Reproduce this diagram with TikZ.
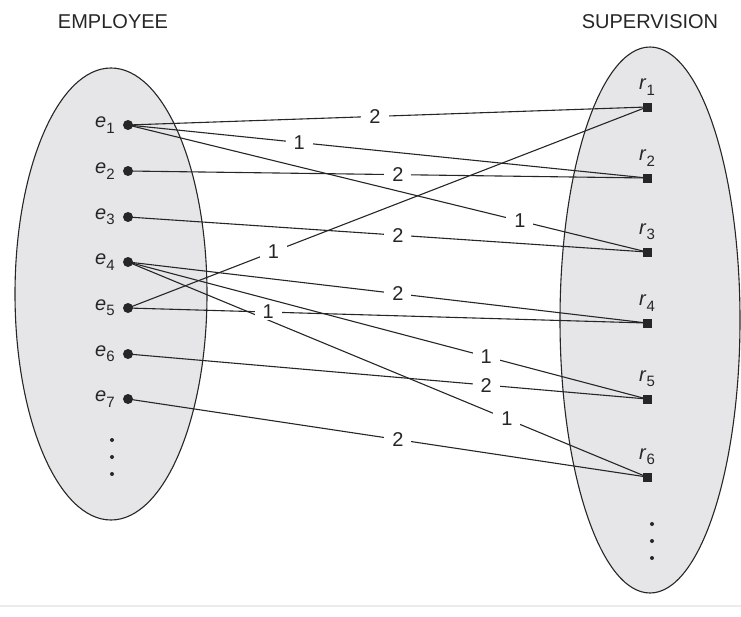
\documentclass[tikz,border=0pt]{standalone}
\usepackage{fontspec}
\setmainfont{Liberation Sans}
\usetikzlibrary{positioning}
\definecolor{erInk}{HTML}{262626}
\definecolor{erShade}{HTML}{E6E6E8}
\definecolor{erRule}{HTML}{EBEBEB}
\newcommand{\ent}[2]{\textit{#1}\raisebox{-.5ex}{\fontsize{15}{15}\selectfont #2}}

\begin{document}
\begin{tikzpicture}[x=1pt,y=-1pt,font=\fontsize{20}{24}\selectfont,
    set/.style={draw=erInk,line width=1.1pt,fill=erShade},
    edot/.style={circle,fill=erInk,inner sep=0pt,minimum size=10pt},
    rbox/.style={rectangle,fill=erInk,inner sep=0pt,minimum size=9pt},
    vdot/.style={circle,fill=erInk,inner sep=0pt,minimum size=4pt},
    lab/.style={inner sep=0pt,text=erInk},
    wt/.style={fill=white,text=erInk,inner xsep=8pt,inner ysep=1pt},
    link/.style={draw=erInk,line width=1.1pt}]
  \useasboundingbox (0,0) rectangle (741,616);
  % the two sets
  \draw[set] (111,294) ellipse [x radius=96,y radius=226];
  \draw[set] (650,320) ellipse [x radius=90,y radius=273];
  \node[lab] (temp) at (113,22) {EMPLOYEE};
  \node[lab] (tsup) at (650,22) {SUPERVISION};
  \draw[erRule,line width=2pt] (0,606) -- (741,606);
  % employee instances
  \node[edot] (e1) at (128,125) {};
  \node[edot] (e2) at (128,171) {};
  \node[edot] (e3) at (128,217) {};
  \node[edot] (e4) at (128,262) {};
  \node[edot] (e5) at (128,308) {};
  \node[edot] (e6) at (128,354) {};
  \node[edot] (e7) at (128,399) {};
  \node[lab,left=8pt of e1] (le1) {\ent{e}{1}};
  \node[lab,left=8pt of e2] (le2) {\ent{e}{2}};
  \node[lab,left=8pt of e3] (le3) {\ent{e}{3}};
  \node[lab,left=8pt of e4] (le4) {\ent{e}{4}};
  \node[lab,left=8pt of e5] (le5) {\ent{e}{5}};
  \node[lab,left=8pt of e6] (le6) {\ent{e}{6}};
  \node[lab,left=8pt of e7] (le7) {\ent{e}{7}};
  \node[vdot] (ev1) at (112,440) {};
  \node[vdot] (ev2) at (112,457) {};
  \node[vdot] (ev3) at (112,474) {};
  % relationship instances
  \node[rbox] (r1) at (647,107) {};
  \node[rbox] (r2) at (647,178) {};
  \node[rbox] (r3) at (647,252) {};
  \node[rbox] (r4) at (647,323) {};
  \node[rbox] (r5) at (647,399) {};
  \node[rbox] (r6) at (647,477) {};
  \node[lab,above=7pt of r1] (lr1) {\ent{r}{1}};
  \node[lab,above=7pt of r2] (lr2) {\ent{r}{2}};
  \node[lab,above=7pt of r3] (lr3) {\ent{r}{3}};
  \node[lab,above=7pt of r4] (lr4) {\ent{r}{4}};
  \node[lab,above=7pt of r5] (lr5) {\ent{r}{5}};
  \node[lab,above=7pt of r6] (lr6) {\ent{r}{6}};
  \node[vdot] (rv1) at (652,524) {};
  \node[vdot] (rv2) at (652,541) {};
  \node[vdot] (rv3) at (652,558) {};
  % role links
  \draw[link] (e1.center) -- node[wt,pos=.476] (w11) {2} (r1.center);
  \draw[link] (e1.center) -- node[wt,pos=.33] (w12) {1} (r2.center);
  \draw[link] (e1.center) -- node[wt,pos=.755] (w13) {1} (r3.center);
  \draw[link] (e2.center) -- node[wt,pos=.52] (w22) {2} (r2.center);
  \draw[link] (e3.center) -- node[wt,pos=.52] (w33) {2} (r3.center);
  \draw[link] (e4.center) -- node[wt,pos=.52] (w44) {2} (r4.center);
  \draw[link] (e4.center) -- node[wt,pos=.69] (w45) {1} (r5.center);
  \draw[link] (e4.center) -- node[wt,pos=.73] (w46) {1} (r6.center);
  \draw[link] (e5.center) -- node[wt,pos=.28] (w51) {1} (r1.center);
  \draw[link] (e5.center) -- node[wt,pos=.27] (w54) {1} (r4.center);
  \draw[link] (e6.center) -- node[wt,pos=.69] (w65) {2} (r5.center);
  \draw[link] (e7.center) -- node[wt,pos=.52] (w76) {2} (r6.center);
\end{tikzpicture}
\end{document}
